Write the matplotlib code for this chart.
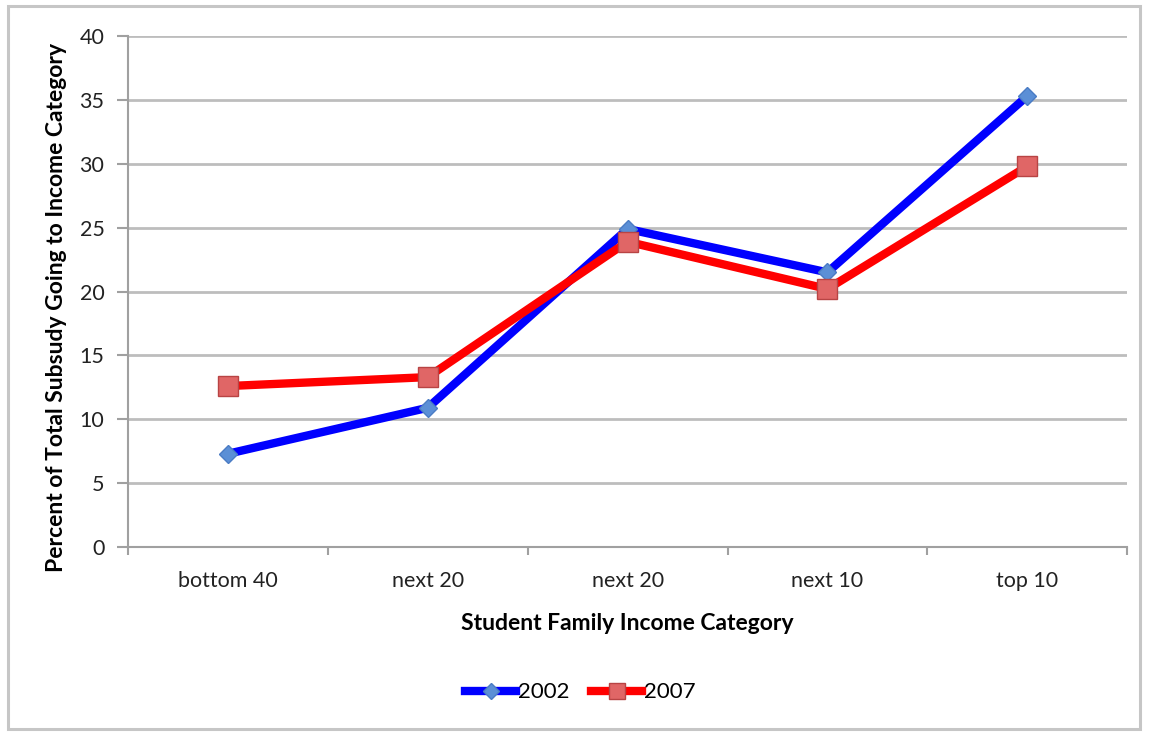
import matplotlib.pyplot as plt
from matplotlib.patches import Rectangle
from matplotlib.lines import Line2D

plt.rcParams['font.family'] = ['Lato', 'DejaVu Sans']

categories = ['bottom 40', 'next 20', 'next 20', 'next 10', 'top 10']
y2002 = [7.3, 10.9, 24.9, 21.5, 35.3]
y2007 = [12.6, 13.3, 23.9, 20.2, 29.8]

fig = plt.figure(figsize=(11.49, 7.32), dpi=100)
ax = fig.add_axes([0.1114, 0.2527, 0.8696, 0.6981])

# outer chart frame
fig.patches.append(Rectangle((0.007, 0.004), 0.985, 0.988, transform=fig.transFigure,
                             fill=False, edgecolor='#c6c6c6', linewidth=2.2))

x = range(len(categories))
ax.plot(x, y2002, color='#0000ff', linewidth=6, marker='D', markersize=9,
        markerfacecolor='#5b8fd6', markeredgecolor='#4a7cc4', markeredgewidth=1, label='2002', zorder=3)
ax.plot(x, y2007, color='#ff0000', linewidth=6, marker='s', markersize=14,
        markerfacecolor='#e06666', markeredgecolor='#b84444', markeredgewidth=1, label='2007', zorder=3)

ax.set_xlim(-0.5, 4.5)
ax.set_ylim(0, 40)
ax.set_yticks(range(0, 41, 5))
ax.yaxis.grid(True, color='#bdbdbd', linewidth=2)
ax.set_axisbelow(True)

ax.set_xticks(list(x))
ax.set_xticklabels(categories)
ax.set_xticks([i - 0.5 for i in range(6)], minor=True)
ax.tick_params(axis='x', which='major', length=0, pad=17, labelsize=15.5, labelcolor='#222222')
ax.tick_params(axis='x', which='minor', length=6, width=1.5, color='#a0a0a0', direction='out')
ax.tick_params(axis='y', length=8, width=1.5, color='#a0a0a0', pad=9, labelsize=15.5, labelcolor='#222222')

for side in ['top', 'right']:
    ax.spines[side].set_visible(False)
for side in ['left', 'bottom']:
    ax.spines[side].set_color('#a0a0a0')
    ax.spines[side].set_linewidth(1.5)

ax.set_xlabel('Student Family Income Category', fontsize=16.5, fontweight='bold', labelpad=16)
ax.set_ylabel('Percent of Total Subsudy Going to Income Category', fontsize=16.5,
              fontweight='bold')
ax.yaxis.set_label_coords(-0.061, 0.468)

handles = [
    Line2D([], [], color='#0000ff', linewidth=6, marker='D', markersize=8,
           markerfacecolor='#5b8fd6', markeredgecolor='#4a7cc4'),
    Line2D([], [], color='#ff0000', linewidth=6, marker='s', markersize=12,
           markerfacecolor='#e06666', markeredgecolor='#b84444'),
]
fig.legend(handles, ['2002', '2007'], loc='center', bbox_to_anchor=(0.505, 0.054), ncol=2,
           frameon=False, fontsize=16, handlelength=2.3, handletextpad=0.05, columnspacing=1.0)

fig.savefig('out.png', dpi=100, facecolor='white')
